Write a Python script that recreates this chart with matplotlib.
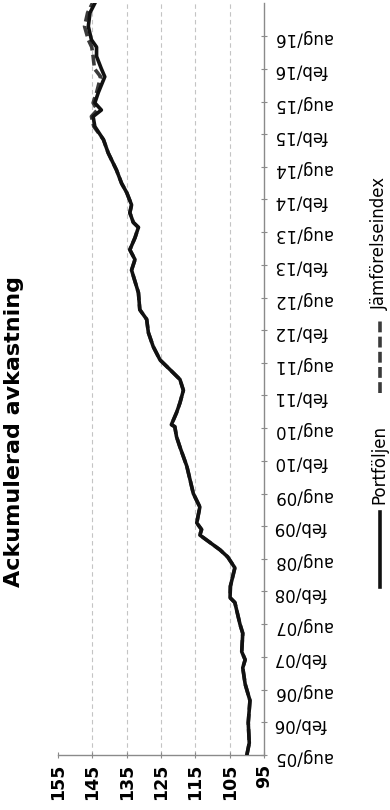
import matplotlib
matplotlib.use("Agg")
import matplotlib.pyplot as plt
from matplotlib.lines import Line2D
import pandas as pd

# ackumulerad avkastning, index 100 = aug 2005
datum = ["2005-08-01", "2005-10-07", "2006-01-28", "2006-06-01", "2006-09-01",
         "2006-12-01", "2007-01-15", "2007-03-01", "2007-06-12", "2007-08-01",
         "2007-12-01", "2007-12-28", "2008-03-01", "2008-06-12", "2008-08-12",
         "2008-09-20", "2008-12-12", "2009-01-12", "2009-02-18", "2009-05-18",
         "2009-08-01", "2010-01-01", "2010-04-18", "2010-06-15", "2010-08-10",
         "2010-08-21", "2010-10-27", "2010-12-21", "2011-03-01", "2011-05-01",
         "2011-06-25", "2011-08-18", "2011-11-01", "2012-01-18", "2012-04-01",
         "2012-05-25", "2012-08-28", "2013-01-01", "2013-03-01", "2013-04-25",
         "2013-07-01", "2013-08-28", "2013-09-25", "2013-11-18", "2014-01-01",
         "2014-03-10", "2014-05-01", "2014-07-15", "2014-10-18", "2015-01-01",
         "2015-03-15", "2015-05-10", "2015-06-15", "2015-07-25", "2015-09-20",
         "2015-12-18", "2016-02-01", "2016-04-10", "2016-06-01", "2016-07-12",
         "2016-09-25", "2016-12-10", "2017-02-01"]

portfoljen = [100.0, 99.3, 99.6, 99.1, 100.5,
              101.2, 100.5, 101.5, 101.2, 102.0,
              103.5, 104.9, 104.8, 103.5, 105.6,
              107.8, 113.7, 113.2, 114.6, 113.7,
              115.6, 117.5, 119.5, 120.5, 121.0,
              122.0, 120.5, 119.5, 118.5, 119.5,
              122.4, 125.3, 127.3, 128.7, 129.2,
              131.2, 131.6, 133.6, 132.6, 134.1,
              132.6, 131.6, 133.1, 134.1, 133.6,
              135.0, 136.5, 138.0, 140.4, 141.8,
              144.3, 144.8, 142.4, 144.3, 143.3,
              141.4, 142.4, 143.8, 143.8, 145.3,
              146.2, 145.7, 144.3]

jamforelseindex = [100.0, 99.3, 99.6, 99.1, 100.5,
                   101.2, 100.5, 101.5, 101.2, 102.0,
                   103.5, 104.9, 104.8, 103.5, 105.6,
                   107.8, 113.7, 113.2, 114.6, 113.7,
                   115.6, 117.5, 119.5, 120.5, 121.0,
                   122.0, 120.5, 119.5, 118.5, 119.5,
                   122.4, 125.3, 127.3, 128.7, 129.2,
                   131.2, 131.6, 133.6, 132.6, 134.1,
                   132.6, 131.6, 133.1, 134.1, 133.6,
                   135.0, 136.5, 138.0, 140.4, 141.8,
                   144.6, 145.3, 143.6, 144.8, 143.8,
                   142.6, 144.4, 144.8, 145.2, 146.2,
                   147.3, 146.4, 145.0]

varden = [155, 145, 135, 125, 115, 105, 95]
stodlinjer = [145, 135, 125, 115, 105]
manader = ["aug/05", "feb/06", "aug/06", "feb/07", "aug/07", "feb/08", "aug/08",
           "feb/09", "aug/09", "feb/10", "aug/10", "feb/11", "aug/11", "feb/12",
           "aug/12", "feb/13", "aug/13", "feb/14", "aug/14", "feb/15", "aug/15",
           "feb/16", "aug/16"]

datumy = pd.to_datetime(datum)
manad_nr = {"feb": 2, "aug": 8}
tick_datumy = [pd.Timestamp(2000 + int(m[4:]), manad_nr[m[:3]], 1) for m in manader]

fig = plt.figure(figsize=(3.9, 8.1), dpi=100)
ax = fig.add_axes([0.149, 0.068, 0.528, 0.928])

# graf je otoceny o 90 stupnu: hodnoty vodorovne, cas svisle
for v in stodlinjer:
    ax.axvline(v, color="#c4c4c4", lw=0.8, ls=(0, (4, 3)), zorder=1)

ax.plot(jamforelseindex, datumy, color="#3a3a3a", lw=2.6, ls=(0, (3, 1.2)),
        zorder=2)
ax.plot(portfoljen, datumy, color="#111111", lw=2.6, solid_joinstyle="round",
        zorder=3)

ax.set_xlim(155, 95)
ax.set_ylim(datumy[0], datumy[-1])
ax.set_xticks(varden)
ax.set_xticklabels([str(v) for v in varden], rotation=90, fontsize=12.5,
                   fontweight="bold")
ax.yaxis.tick_right()
ax.set_yticks(tick_datumy)
ax.set_yticklabels(manader, rotation=180, fontsize=12)

for s in ["left", "top"]:
    ax.spines[s].set_visible(False)
for s in ["bottom", "right"]:
    ax.spines[s].set_color("#8a8a8a")
    ax.spines[s].set_linewidth(1.0)
ax.tick_params(axis="x", direction="inout", length=5, color="#8a8a8a", pad=4)
ax.tick_params(axis="y", direction="inout", length=4, color="#8a8a8a", pad=5)

fig.text(0.036, 0.467, "Ackumulerad avkastning", rotation=90, fontsize=16,
         fontweight="bold", ha="center", va="center")

# legenda pod grafem (po otoceni vpravo)
fig.add_artist(Line2D([0.974, 0.974], [0.275, 0.368], color="#111111", lw=2.6,
                      transform=fig.transFigure))
fig.text(0.974, 0.378, "Portföljen", rotation=90, fontsize=12,
         ha="center", va="bottom")
fig.add_artist(Line2D([0.974, 0.974], [0.515, 0.607], color="#3a3a3a", lw=2.6,
                      ls=(0, (3, 1.2)), transform=fig.transFigure))
fig.text(0.974, 0.617, "Jämförelseindex", rotation=90, fontsize=12,
         ha="center", va="bottom")

fig.savefig("out.png", dpi=100)
